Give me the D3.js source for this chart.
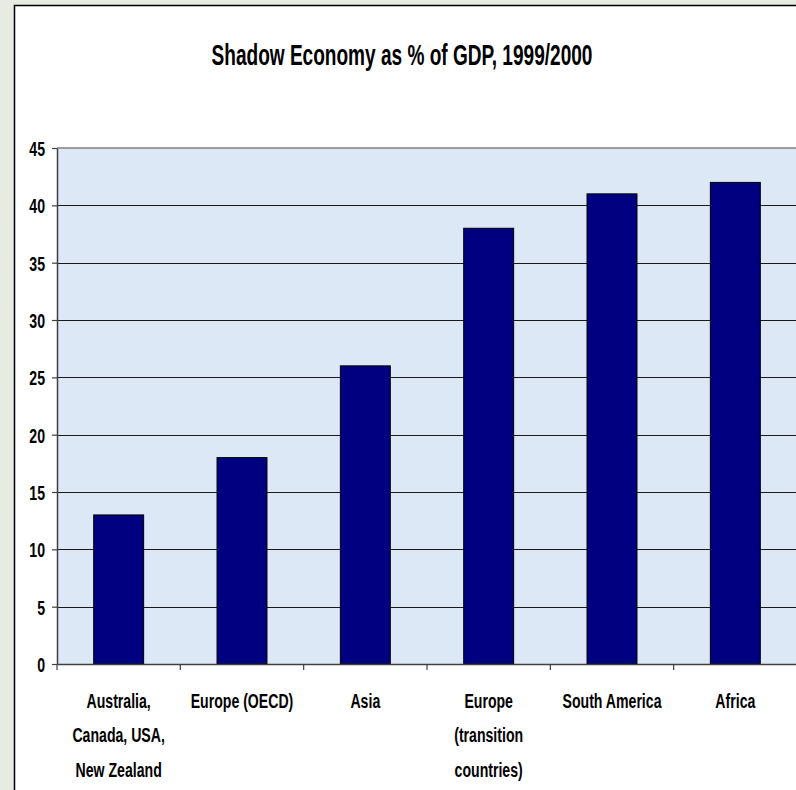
<!DOCTYPE html>
<html>
<head>
<meta charset="utf-8">
<script src="https://cdn.jsdelivr.net/npm/d3@7"></script>
<style>
  html, body { margin: 0; padding: 0; background: #ffffff; }
  svg { display: block; }
</style>
</head>
<body>
<svg id="chart" width="796" height="790"></svg>
<script>
const title = "Shadow Economy as % of GDP, 1999/2000";
const categories = [
  ["Australia,", "Canada, USA,", "New Zealand"],
  ["Europe (OECD)"],
  ["Asia"],
  ["Europe", "(transition", "countries)"],
  ["South America"],
  ["Africa"]
];
const values = [13, 18, 26, 38, 41, 42];
const yTicks = [0, 5, 10, 15, 20, 25, 30, 35, 40, 45];

const W = 796, H = 790;
const plot = { left: 57, right: 797, top: 148, bottom: 664 };
const FONT = "'Liberation Sans Narrow', 'Arial Narrow', 'Liberation Sans', Arial, sans-serif";

const svg = d3.select("#chart");

// slide background strip on the left, then the white chart area with its border
svg.append("rect").attr("x", 0).attr("y", 0).attr("width", W).attr("height", H).attr("fill", "#e6ece2");
svg.append("rect").attr("x", 14.5).attr("y", 5.5).attr("width", W + 10).attr("height", H + 10)
  .attr("fill", "#ffffff").attr("stroke", "#000").attr("stroke-width", 1.5);

const x = d3.scaleBand().domain(d3.range(categories.length)).range([plot.left, plot.right]).paddingInner(0).paddingOuter(0);
const y = d3.scaleLinear().domain([0, 45]).range([plot.bottom, plot.top]);

// plot background
svg.append("rect").attr("x", plot.left).attr("y", plot.top)
  .attr("width", plot.right - plot.left).attr("height", plot.bottom - plot.top)
  .attr("fill", "#dde8f6");

// gridlines
svg.append("g").selectAll("line").data(yTicks.filter(d => d > 0 && d < 45)).join("line")
  .attr("x1", plot.left).attr("x2", plot.right)
  .attr("y1", d => Math.round(y(d)) + 0.5).attr("y2", d => Math.round(y(d)) + 0.5)
  .attr("stroke", "#1a1a1a").attr("stroke-width", 1);
// top border of plot
svg.append("line").attr("x1", plot.left).attr("x2", plot.right)
  .attr("y1", y(45)).attr("y2", y(45)).attr("stroke", "#808080").attr("stroke-width", 1.5);

// bars
const barFrac = 0.405;
svg.append("g").selectAll("rect").data(values).join("rect")
  .attr("x", (d, i) => x(i) + x.bandwidth() * (1 - barFrac) / 2)
  .attr("width", x.bandwidth() * barFrac)
  .attr("y", d => y(d))
  .attr("height", d => y(0) - y(d))
  .attr("fill", "#000080").attr("stroke", "#000").attr("stroke-width", 1);

// y axis
const yAxis = svg.append("g").attr("transform", `translate(${plot.left},0)`)
  .call(d3.axisLeft(y).tickValues(yTicks).tickSize(5).tickPadding(7).tickSizeOuter(0));
yAxis.select(".domain").attr("stroke", "#404040").attr("stroke-width", 1.5);
yAxis.selectAll(".tick line").attr("stroke", "#404040").attr("stroke-width", 1.2);
yAxis.selectAll(".tick text").attr("font-family", FONT).attr("font-size", 21).attr("font-weight", "bold")
  .attr("fill", "#000").attr("dy", "0.36em");

// x axis
const xAxis = svg.append("g").attr("transform", `translate(0,${plot.bottom})`)
  .call(d3.axisBottom(x).tickValues([]).tickSizeOuter(0));
xAxis.select(".domain").attr("stroke", "#404040").attr("stroke-width", 1.5);
// boundary tick marks between categories
svg.append("g").selectAll("line").data(d3.range(categories.length)).join("line")
  .attr("x1", i => x(i)).attr("x2", i => x(i))
  .attr("y1", plot.bottom).attr("y2", plot.bottom + 6)
  .attr("stroke", "#404040").attr("stroke-width", 1.2);

// category labels
const lab = svg.append("g").selectAll("text").data(categories).join("text")
  .attr("font-family", FONT).attr("font-size", 21).attr("font-weight", "bold")
  .attr("text-anchor", "middle").attr("fill", "#000");
lab.each(function(lines, i) {
  const t = d3.select(this);
  lines.forEach((ln, k) => {
    t.append("tspan").attr("x", x(i) + x.bandwidth() / 2).attr("y", 708 + k * 34.3).text(ln);
  });
});

// title
svg.append("text").attr("class", "title")
  .attr("x", 402).attr("y", 65)
  .attr("text-anchor", "middle")
  .attr("font-family", FONT).attr("font-size", 30).attr("font-weight", "bold")
  .attr("fill", "#000").text(title);

// horizontal condensation to match the narrow face of the original
function condense(sel, target, cx) {
  const node = sel.node();
  const w = node.getComputedTextLength();
  const k = Math.min(1, target / w);
  sel.attr("transform", `translate(${cx},0) scale(${k},1) translate(${-cx},0)`);
  return k;
}
condense(svg.select("text.title"), 381, 402);

// measure a reference label to get a common factor for the small texts
const probe = svg.append("text").attr("font-family", FONT).attr("font-size", 21).attr("font-weight", "bold").text("Europe (OECD)");
const kLab = Math.min(1, 102.7 / probe.node().getComputedTextLength());
probe.remove();
lab.each(function(lines, i) {
  const cx = x(i) + x.bandwidth() / 2;
  d3.select(this).attr("transform", `translate(${cx},0) scale(${kLab},1) translate(${-cx},0)`);
});
yAxis.selectAll(".tick text").each(function() {
  const t = d3.select(this);
  const xx = +t.attr("x");
  t.attr("transform", `translate(${xx},0) scale(${kLab},1) translate(${-xx},0)`);
});
</script>
</body>
</html>
